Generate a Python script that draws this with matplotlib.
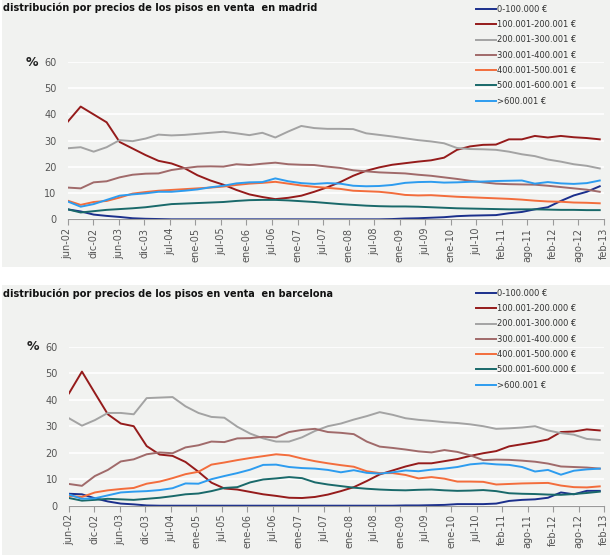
import numpy as np
import matplotlib
matplotlib.use('Agg')
import matplotlib.pyplot as plt
from matplotlib.patches import Rectangle

# muestras cada ~3 meses desde jun-02
tick_labels = ['jun-02', 'dic-02', 'jun-03', 'dic-03', 'jul-04', 'ene-05', 'jul-05',
               'ene-06', 'jul-06', 'ene-07', 'jul-07', 'ene-08', 'jul-08', 'ene-09',
               'jul-09', 'ene-10', 'jul-10', 'feb-11', 'ago-11', 'feb-12', 'ago-12', 'feb-13']

labels_mad = ['0-100.000 €', '100.001-200.001 €', '200.001-300.001 €', '300.001-400.001 €',
              '400.001-500.001 €', '500.001-600.001 €', '>600.001 €']
labels_bcn = ['0-100.000 €', '100.001-200.000 €', '200.001-300.000 €', '300.001-400.000 €',
              '400.001-500.000 €', '500.001-600.000 €', '>600.001 €']

colors = ['#1b2f8c', '#951b1b', '#a3a3a3', '#a06a6a', '#f36d3c', '#19696a', '#2d9cef']

# madrid
mad_0_100 = [3.8, 3.0, 1.8, 1.3, 0.9, 0.4, 0.2, 0.1, 0.0, 0.0, 0.0, 0.0, 0.0, 0.0,
             0.0, 0.0, 0.0, 0.0, 0.0, 0.0, 0.0, 0.0, 0.0, 0.0, 0.0, 0.1, 0.3, 0.4,
             0.6, 0.8, 1.2, 1.4, 1.5, 1.6, 2.3, 2.8, 3.8, 4.6, 7.0, 9.1, 10.5, 12.6]
mad_100_200 = [37.2, 43.0, 40.0, 37.0, 29.5, 27.0, 24.5, 22.3, 21.3, 19.5, 16.8, 14.8, 13.2, 11.2,
               9.5, 8.5, 7.7, 8.2, 9.0, 10.5, 12.2, 14.2, 16.6, 18.5, 19.8, 20.8, 21.4, 22.0,
               22.5, 23.5, 26.5, 27.8, 28.4, 28.5, 30.5, 30.5, 31.8, 31.2, 31.8, 31.3, 31.0, 30.5]
mad_200_300 = [27.1, 27.5, 25.8, 27.5, 30.2, 29.8, 30.8, 32.3, 32.0, 32.2, 32.6, 33.0, 33.4, 32.8,
               32.1, 33.0, 31.2, 33.5, 35.6, 34.8, 34.5, 34.5, 34.4, 32.8, 32.2, 31.6, 30.9, 30.2,
               29.7, 29.0, 27.2, 26.8, 26.7, 26.5, 25.8, 24.8, 24.1, 22.8, 22.0, 21.0, 20.4, 19.4]
mad_300_400 = [12.1, 11.8, 14.1, 14.5, 16.0, 17.0, 17.4, 17.5, 18.8, 19.5, 20.1, 20.2, 20.1, 21.0,
               20.7, 21.2, 21.6, 21.0, 20.8, 20.7, 20.1, 19.6, 18.7, 18.3, 17.9, 17.7, 17.5, 17.0,
               16.6, 16.0, 15.4, 14.7, 14.1, 13.6, 13.4, 13.3, 13.2, 12.8, 12.3, 11.8, 11.3, 10.5]
mad_400_500 = [7.1, 5.5, 6.6, 7.0, 8.3, 9.8, 10.4, 10.9, 11.2, 11.5, 11.8, 12.1, 12.5, 13.1,
               13.6, 13.9, 14.3, 13.6, 12.9, 12.4, 12.0, 11.6, 10.9, 10.7, 10.5, 10.0, 9.3, 9.1,
               9.2, 8.9, 8.6, 8.4, 8.2, 8.0, 7.8, 7.5, 7.1, 6.8, 6.7, 6.4, 6.3, 6.1]
mad_500_600 = [3.8, 2.6, 3.1, 3.6, 3.9, 4.2, 4.6, 5.2, 5.8, 6.0, 6.2, 6.4, 6.6, 7.0,
               7.3, 7.4, 7.4, 7.2, 6.9, 6.6, 6.2, 5.8, 5.5, 5.2, 5.0, 4.9, 4.9, 4.8,
               4.6, 4.4, 4.2, 4.1, 4.0, 3.9, 3.8, 3.8, 3.8, 3.7, 3.6, 3.6, 3.5, 3.5]
mad_600 = [6.8, 4.8, 5.8, 7.4, 9.0, 9.5, 9.9, 10.5, 10.5, 10.9, 11.4, 12.2, 12.8, 13.7,
           14.1, 14.2, 15.6, 14.5, 13.8, 13.5, 13.8, 13.6, 12.8, 12.6, 12.7, 13.1, 13.9, 14.2,
           14.3, 14.0, 14.1, 14.3, 14.4, 14.6, 14.7, 14.8, 13.6, 14.2, 13.7, 13.5, 13.8, 14.8]

# barcelona
bcn_0_100 = [4.5, 4.3, 2.8, 1.6, 0.8, 0.5, 0.1, 0.0, 0.0, 0.0, 0.0, 0.0, 0.0, 0.0,
             0.0, 0.0, 0.0, 0.0, 0.0, 0.0, 0.0, 0.0, 0.0, 0.0, 0.0, 0.0, 0.1, 0.1,
             0.2, 0.3, 0.6, 0.6, 0.6, 0.8, 1.8, 2.2, 2.4, 3.0, 5.0, 4.3, 5.6, 5.6]
bcn_100_200 = [42.4, 50.6, 42.5, 34.5, 31.0, 30.0, 22.5, 19.3, 18.8, 16.5, 12.8, 8.7, 6.5, 6.1,
               5.2, 4.3, 3.7, 3.0, 2.9, 3.3, 4.2, 5.5, 7.0, 9.3, 11.8, 13.3, 14.8, 16.0,
               16.0, 16.8, 17.6, 18.8, 19.8, 20.6, 22.4, 23.2, 24.0, 25.0, 27.8, 28.0, 28.8, 28.4]
bcn_200_300 = [33.0, 30.2, 32.3, 35.0, 35.0, 34.5, 40.6, 40.8, 41.0, 37.5, 35.0, 33.5, 33.2, 29.8,
               27.2, 25.4, 24.2, 24.2, 25.8, 28.2, 30.0, 31.0, 32.5, 33.8, 35.3, 34.3, 33.0, 32.4,
               32.0, 31.5, 31.2, 30.7, 30.0, 29.0, 29.2, 29.5, 30.0, 28.4, 27.4, 26.8, 25.2, 24.8]
bcn_300_400 = [8.2, 7.5, 11.2, 13.5, 16.7, 17.5, 19.4, 20.1, 19.8, 22.0, 22.8, 24.2, 24.0, 25.4,
               25.5, 26.0, 25.8, 27.8, 28.6, 29.0, 27.8, 27.5, 27.0, 24.2, 22.3, 21.8, 21.2, 20.5,
               20.1, 21.0, 20.3, 19.0, 17.2, 17.4, 17.3, 17.0, 16.6, 15.9, 14.8, 14.6, 14.4, 14.0]
bcn_400_500 = [3.7, 3.3, 5.0, 5.8, 6.3, 6.7, 8.3, 9.1, 10.4, 11.9, 12.8, 15.5, 16.3, 17.2,
               18.0, 18.7, 19.4, 19.0, 17.8, 16.8, 16.0, 15.3, 14.7, 13.0, 12.3, 12.3, 11.6, 10.3,
               10.8, 10.2, 9.1, 9.1, 9.0, 8.0, 8.2, 8.4, 8.5, 8.6, 7.6, 7.0, 6.9, 7.3]
bcn_500_600 = [2.9, 1.9, 2.2, 2.6, 2.4, 2.2, 2.6, 3.0, 3.6, 4.3, 4.6, 5.5, 6.7, 7.0,
               8.8, 9.9, 10.3, 10.8, 10.4, 8.8, 8.0, 7.4, 6.8, 6.4, 6.1, 5.9, 5.8, 6.0,
               6.1, 5.8, 5.6, 5.7, 5.9, 5.5, 4.7, 4.5, 4.4, 4.2, 4.1, 4.4, 4.8, 5.3]
bcn_600 = [4.2, 2.6, 2.8, 3.9, 5.0, 5.3, 5.5, 5.9, 6.6, 8.4, 8.3, 10.0, 11.2, 12.3,
           13.6, 15.4, 15.5, 14.6, 14.2, 14.0, 13.5, 12.6, 13.4, 12.4, 12.1, 12.6, 13.3, 13.0,
           13.6, 14.0, 14.6, 15.6, 16.0, 15.6, 15.4, 14.6, 12.9, 13.5, 11.7, 13.2, 13.7, 14.0]

madrid = [mad_0_100, mad_100_200, mad_200_300, mad_300_400, mad_400_500, mad_500_600, mad_600]
barcelona = [bcn_0_100, bcn_100_200, bcn_200_300, bcn_300_400, bcn_400_500, bcn_500_600, bcn_600]

W, H = 610, 555
fig = plt.figure(figsize=(W / 100, H / 100), dpi=100)
fig.patch.set_facecolor('white')

bg = '#f1f2f0'
fig.add_artist(Rectangle((2 / W, 1 - 267 / H), 1, 267 / H, transform=fig.transFigure,
                         facecolor=bg, edgecolor='none', zorder=0))
fig.add_artist(Rectangle((2 / W, 0), 1, 1 - 285 / H, transform=fig.transFigure,
                         facecolor=bg, edgecolor='none', zorder=0))


def panel(series, labels, title, y_top, y0_px, y60_px, x0_px, title_px, leg_px):
    ax = fig.add_axes([x0_px / W, 1 - y0_px / H, (604 - x0_px) / W, (y0_px - y60_px) / H])
    ax.set_facecolor('none')
    x = np.linspace(0, 125, len(series[0]))
    for s, c, lab in zip(series, colors, labels):
        ax.plot(x, s, color=c, lw=1.4, label=lab, solid_joinstyle='round')
    ax.set_xlim(0, 126)
    ax.set_ylim(0, 60)
    ax.set_yticks(range(0, 61, 10))
    ax.set_xticks(np.arange(len(tick_labels)) * 6)
    ax.set_xticklabels(tick_labels, rotation=90)
    ax.grid(axis='y', color='white', lw=1.2)
    ax.set_axisbelow(True)
    for sp in ['top', 'right', 'left']:
        ax.spines[sp].set_visible(False)
    ax.spines['bottom'].set_color('#9a9a9a')
    ax.tick_params(axis='x', colors='#9a9a9a', length=4, labelcolor='#555555', labelsize=7, pad=2)
    ax.tick_params(axis='y', length=0, labelcolor='#555555', labelsize=7, pad=8)
    ax.text(-0.055, 1.0, '%', transform=ax.transAxes, ha='right', va='center',
            fontsize=9, fontweight='bold', color='#222222')
    fig.text(3 / W, 1 - title_px / H, title, fontsize=7, fontweight='bold',
             color='#111111', va='center', ha='left')
    fig.legend(*ax.get_legend_handles_labels(), loc='upper left',
               bbox_to_anchor=(476 / W, 1 - leg_px / H), frameon=False,
               fontsize=6, handlelength=2.4, handletextpad=0.1, labelspacing=0.75,
               borderpad=0, borderaxespad=0, labelcolor='#333333')
    return ax


panel(madrid, labels_mad, 'distribución por precios de los pisos en venta  en madrid',
      0, 219.3, 62.0, 67.7, 8, 5)
panel(barcelona, labels_bcn, 'distribución por precios de los pisos en venta  en barcelona',
      0, 505.7, 346.7, 69.0, 294, 289)

fig.savefig('out.png', dpi=100, facecolor=fig.get_facecolor())
